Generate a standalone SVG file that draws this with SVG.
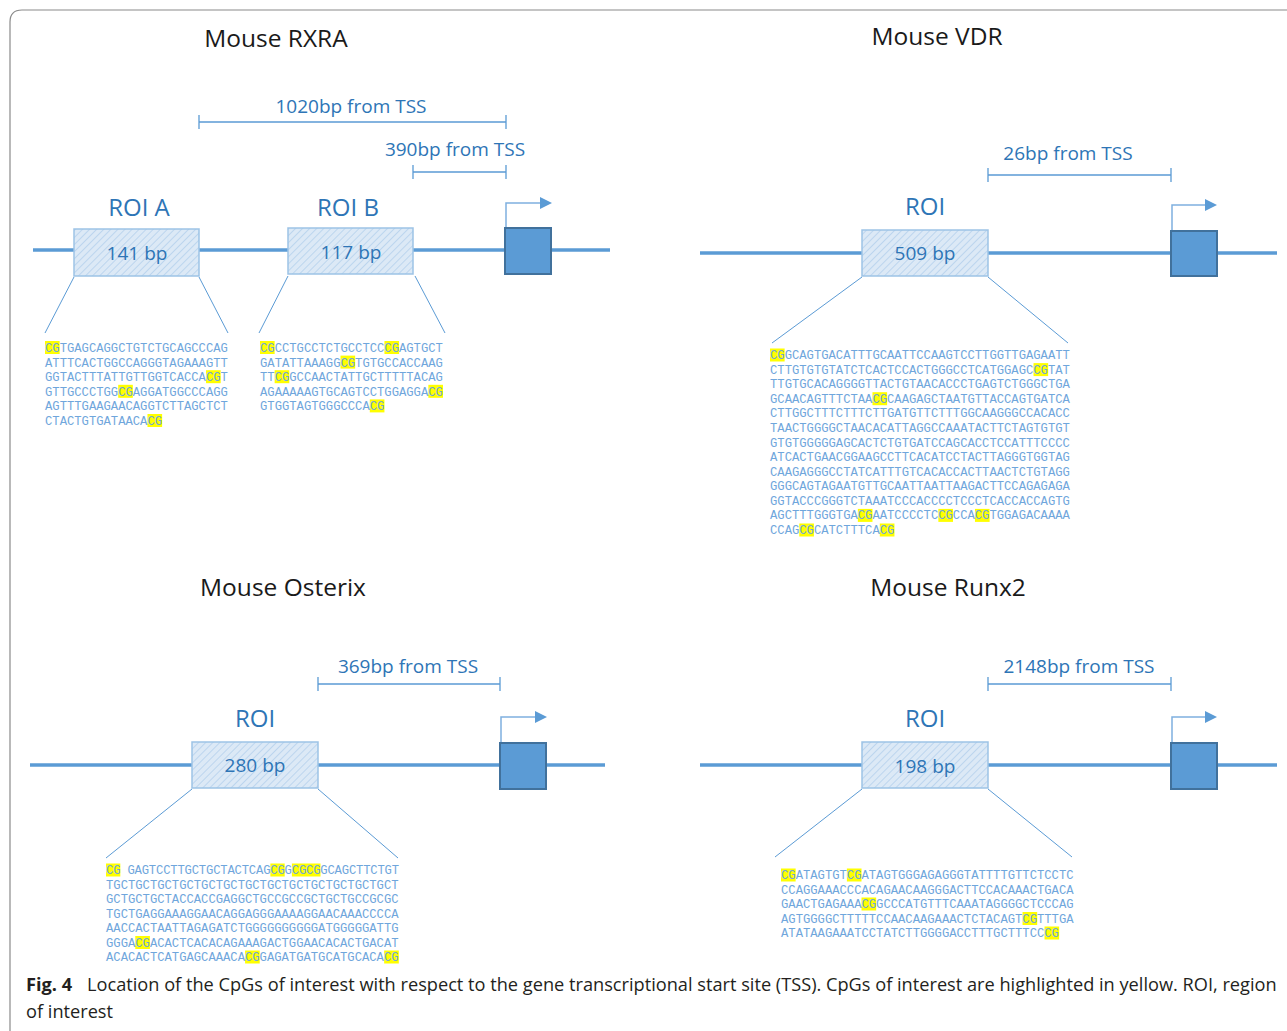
<svg xmlns="http://www.w3.org/2000/svg" width="1287" height="1031" viewBox="0 0 1287 1031">
<style>
.title{font-family:"Open Sans","Liberation Sans",sans-serif;font-size:24.5px;fill:#1a1a1a;text-anchor:middle}
.roi{font-family:"Open Sans","Liberation Sans",sans-serif;font-size:24px;fill:#2e75b6;text-anchor:middle}
.bp{font-family:"Open Sans","Liberation Sans",sans-serif;font-size:19px;fill:#2e75b6;text-anchor:middle}
.tss{font-family:"Open Sans","Liberation Sans",sans-serif;font-size:19px;fill:#2e75b6;text-anchor:middle}
.seq{font-family:"Liberation Mono",monospace;font-size:12.2px;fill:#6fa6dc}
.hl{fill:#ffff00}
.dna{stroke:#5b9bd5;stroke-width:3.5;fill:none}
.roibox{fill:url(#hatch);stroke:#9dc3e6;stroke-width:1.5}
.gene{fill:#5b9bd5;stroke:#41719c;stroke-width:2}
.arr{stroke:#7fb0df;stroke-width:1.5;fill:none}
.brk{stroke:#5b9bd5;stroke-width:1.3;fill:none}
.zoom{stroke:#5b9bd5;stroke-width:1;fill:none}
.cap{font-family:"Open Sans","Liberation Sans",sans-serif;font-size:18.2px;fill:#231f20}
</style>
<defs>
<pattern id="hatch" patternUnits="userSpaceOnUse" width="5" height="5" patternTransform="rotate(45)">
<rect width="5" height="5" fill="#dce9f6"/>
<line x1="0" y1="0" x2="0" y2="5" stroke="#bcd5ee" stroke-width="2"/>
</pattern>
<marker id="ah" viewBox="0 0 12 12" refX="0" refY="6" markerWidth="12" markerHeight="12" markerUnits="userSpaceOnUse" orient="auto"><path d="M0,0 L12,6 L0,12 z" fill="#5b9bd5"/></marker>
</defs>
<path d="M10,1031 V22 Q10,10 22,10 H1287" fill="none" stroke="#8a8a8a" stroke-width="1.2"/>

<g id="connectors">
<line class="zoom" x1="74" y1="277" x2="45" y2="333"/>
<line class="zoom" x1="199" y1="277" x2="228" y2="333"/>
<line class="zoom" x1="288" y1="276" x2="259" y2="333"/>
<line class="zoom" x1="415" y1="276" x2="445" y2="333"/>
<path class="brk" d="M199,115 V129 M199,122 H506 M506,115 V129"/>
<path class="brk" d="M413,165 V179 M413,172 H506 M506,165 V179"/>
<path class="arr" d="M506,228 V203 H540" marker-end="url(#ah)"/>
<line class="zoom" x1="862" y1="277" x2="772" y2="343"/>
<line class="zoom" x1="988" y1="277" x2="1068" y2="343"/>
<path class="brk" d="M988,168 V182 M988,175 H1171 M1171,168 V182"/>
<path class="arr" d="M1172,231 V205 H1205" marker-end="url(#ah)"/>
<line class="zoom" x1="192" y1="789" x2="106" y2="858"/>
<line class="zoom" x1="318" y1="789" x2="398" y2="858"/>
<path class="brk" d="M318,677 V691 M318,684 H500 M500,677 V691"/>
<path class="arr" d="M501,743 V717 H535" marker-end="url(#ah)"/>
<line class="zoom" x1="862" y1="789" x2="775" y2="857"/>
<line class="zoom" x1="988" y1="789" x2="1072" y2="857"/>
<path class="brk" d="M988,677 V691 M988,684 H1171 M1171,677 V691"/>
<path class="arr" d="M1172,743 V717 H1205" marker-end="url(#ah)"/>
</g>

<g id="rxra">
<text class="title" x="276" y="47">Mouse RXRA</text>
<text class="tss" x="351" y="113">1020bp from TSS</text>
<text class="tss" x="455" y="156">390bp from TSS</text>
<line class="dna" x1="33" y1="250" x2="610" y2="250"/>
<text class="roi" x="139" y="216">ROI A</text>
<text class="roi" x="348" y="216">ROI B</text>
<g id="rxra-roiA"><rect class="roibox" x="74" y="229" width="125" height="47"/><text class="bp" x="137" y="260">141 bp</text></g>
<g id="rxra-roiB"><rect class="roibox" x="288" y="228" width="125" height="46"/><text class="bp" x="351" y="259">117 bp</text></g>
<g id="rxra-gene"><rect class="gene" x="505" y="228" width="46" height="46"/></g>
<g id="rxra-seqA">
<rect class="hl" x="45" y="341" width="14.64" height="13"/>
<rect class="hl" x="206.04" y="370.2" width="14.64" height="13"/>
<rect class="hl" x="118.2" y="384.8" width="14.64" height="13"/>
<rect class="hl" x="147.48" y="414" width="14.64" height="13"/>
<text class="seq"><tspan x="45" y="352">CGTGAGCAGGCTGTCTGCAGCCCAG</tspan><tspan x="45" y="366.6">ATTTCACTGGCCAGGGTAGAAAGTT</tspan><tspan x="45" y="381.2">GGTACTTTATTGTTGGTCACCACGT</tspan><tspan x="45" y="395.8">GTTGCCCTGGCGAGGATGGCCCAGG</tspan><tspan x="45" y="410.4">AGTTTGAAGAACAGGTCTTAGCTCT</tspan><tspan x="45" y="425">CTACTGTGATAACACG</tspan></text>
</g>
<g id="rxra-seqB">
<rect class="hl" x="260" y="341" width="14.64" height="13"/>
<rect class="hl" x="384.44" y="341" width="14.64" height="13"/>
<rect class="hl" x="340.52" y="355.6" width="14.64" height="13"/>
<rect class="hl" x="274.64" y="370.2" width="14.64" height="13"/>
<rect class="hl" x="428.36" y="384.8" width="14.64" height="13"/>
<rect class="hl" x="369.8" y="399.4" width="14.64" height="13"/>
<text class="seq"><tspan x="260" y="352">CGCCTGCCTCTGCCTCCCGAGTGCT</tspan><tspan x="260" y="366.6">GATATTAAAGGCGTGTGCCACCAAG</tspan><tspan x="260" y="381.2">TTCGGCCAACTATTGCTTTTTACAG</tspan><tspan x="260" y="395.8">AGAAAAAGTGCAGTCCTGGAGGACG</tspan><tspan x="260" y="410.4">GTGGTAGTGGGCCCACG</tspan></text>
</g>
</g>

<g id="vdr">
<text class="title" x="937" y="45">Mouse VDR</text>
<text class="tss" x="1068" y="160">26bp from TSS</text>
<line class="dna" x1="700" y1="253" x2="1277" y2="253"/>
<text class="roi" x="925" y="215">ROI</text>
<g id="vdr-roi"><rect class="roibox" x="862" y="230" width="126" height="46"/><text class="bp" x="925" y="260">509 bp</text></g>
<g id="vdr-gene"><rect class="gene" x="1171" y="231" width="46" height="45"/></g>
<g id="vdr-seq">
<rect class="hl" x="770" y="348.5" width="14.64" height="13"/>
<rect class="hl" x="1033.52" y="363.1" width="14.64" height="13"/>
<rect class="hl" x="872.48" y="392.2" width="14.64" height="13"/>
<rect class="hl" x="857.84" y="508.9" width="14.64" height="13"/>
<rect class="hl" x="938.36" y="508.9" width="14.64" height="13"/>
<rect class="hl" x="974.96" y="508.9" width="14.64" height="13"/>
<rect class="hl" x="799.28" y="523.5" width="14.64" height="13"/>
<rect class="hl" x="879.8" y="523.5" width="14.64" height="13"/>
<text class="seq"><tspan x="770" y="359">CGGCAGTGACATTTGCAATTCCAAGTCCTTGGTTGAGAATT</tspan><tspan x="770" y="373.6">CTTGTGTGTATCTCACTCCACTGGGCCTCATGGAGCCGTAT</tspan><tspan x="770" y="388.2">TTGTGCACAGGGGTTACTGTAACACCCTGAGTCTGGGCTGA</tspan><tspan x="770" y="402.7">GCAACAGTTTCTAACGCAAGAGCTAATGTTACCAGTGATCA</tspan><tspan x="770" y="417.3">CTTGGCTTTCTTTCTTGATGTTCTTTGGCAAGGGCCACACC</tspan><tspan x="770" y="431.9">TAACTGGGGCTAACACATTAGGCCAAATACTTCTAGTGTGT</tspan><tspan x="770" y="446.5">GTGTGGGGGAGCACTCTGTGATCCAGCACCTCCATTTCCCC</tspan><tspan x="770" y="461.1">ATCACTGAACGGAAGCCTTCACATCCTACTTAGGGTGGTAG</tspan><tspan x="770" y="475.6">CAAGAGGGCCTATCATTTGTCACACCACTTAACTCTGTAGG</tspan><tspan x="770" y="490.2">GGGCAGTAGAATGTTGCAATTAATTAAGACTTCCAGAGAGA</tspan><tspan x="770" y="504.8">GGTACCCGGGTCTAAATCCCACCCCTCCCTCACCACCAGTG</tspan><tspan x="770" y="519.4">AGCTTTGGGTGACGAATCCCCTCCGCCACGTGGAGACAAAA</tspan><tspan x="770" y="534">CCAGCGCATCTTTCACG</tspan></text>
</g>
</g>

<g id="osterix">
<text class="title" x="283" y="596">Mouse Osterix</text>
<text class="tss" x="408" y="673">369bp from TSS</text>
<line class="dna" x1="30" y1="765" x2="605" y2="765"/>
<text class="roi" x="255" y="727">ROI</text>
<g id="osterix-roi"><rect class="roibox" x="192" y="742" width="126" height="46"/><text class="bp" x="255" y="772">280 bp</text></g>
<g id="osterix-gene"><rect class="gene" x="500" y="743" width="46" height="46"/></g>
<g id="osterix-seq">
<rect class="hl" x="106" y="863.5" width="14.3" height="13"/>
<rect class="hl" x="270.4" y="863.5" width="14.3" height="13"/>
<rect class="hl" x="291.9" y="863.5" width="28.6" height="13"/>
<rect class="hl" x="135.28" y="936" width="14.64" height="13"/>
<rect class="hl" x="245.08" y="950.5" width="14.64" height="13"/>
<rect class="hl" x="384.16" y="950.5" width="14.64" height="13"/>
<text class="seq"><tspan x="106" y="874" letter-spacing="-0.17">CG GAGTCCTTGCTGCTACTCAGCGGCGCGGCAGCTTCTGT</tspan><tspan x="106" y="888.5">TGCTGCTGCTGCTGCTGCTGCTGCTGCTGCTGCTGCTGCT</tspan><tspan x="106" y="903">GCTGCTGCTACCACCGAGGCTGCCGCCGCTGCTGCCGCGC</tspan><tspan x="106" y="917.5">TGCTGAGGAAAGGAACAGGAGGGAAAAGGAACAAACCCCA</tspan><tspan x="106" y="932">AACCACTAATTAGAGATCTGGGGGGGGGGATGGGGGATTG</tspan><tspan x="106" y="946.5">GGGACGACACTCACACAGAAAGACTGGAACACACTGACAT</tspan><tspan x="106" y="961">ACACACTCATGAGCAAACACGGAGATGATGCATGCACACG</tspan></text>
</g>
</g>

<g id="runx2">
<text class="title" x="948" y="596">Mouse Runx2</text>
<text class="tss" x="1079" y="673">2148bp from TSS</text>
<line class="dna" x1="700" y1="765" x2="1277" y2="765"/>
<text class="roi" x="925" y="727">ROI</text>
<g id="runx2-roi"><rect class="roibox" x="862" y="742" width="126" height="46"/><text class="bp" x="925" y="773">198 bp</text></g>
<g id="runx2-gene"><rect class="gene" x="1171" y="743" width="46" height="46"/></g>
<g id="runx2-seq">
<rect class="hl" x="781" y="868.5" width="14.64" height="13"/>
<rect class="hl" x="846.88" y="868.5" width="14.64" height="13"/>
<rect class="hl" x="861.52" y="897.5" width="14.64" height="13"/>
<rect class="hl" x="1022.56" y="912" width="14.64" height="13"/>
<rect class="hl" x="1044.52" y="926.5" width="14.64" height="13"/>
<text class="seq"><tspan x="781" y="879">CGATAGTGTCGATAGTGGGAGAGGGTATTTTGTTCTCCTC</tspan><tspan x="781" y="893.5">CCAGGAAACCCACAGAACAAGGGACTTCCACAAACTGACA</tspan><tspan x="781" y="908">GAACTGAGAAACGGCCCATGTTTCAAATAGGGGCTCCCAG</tspan><tspan x="781" y="922.5">AGTGGGGCTTTTTCCAACAAGAAACTCTACAGTCGTTTGA</tspan><tspan x="781" y="937">ATATAAGAAATCCTATCTTGGGGACCTTTGCTTTCCCG</tspan></text>
</g>
</g>

<g id="caption">
<text class="cap" y="991"><tspan x="26" font-weight="bold">Fig. 4</tspan><tspan x="87">Location of the CpGs of interest with respect to the gene transcriptional start site (TSS). CpGs of interest are highlighted in yellow. ROI, region</tspan></text>
<text class="cap" x="26" y="1018">of interest</text>
</g>
</svg>
